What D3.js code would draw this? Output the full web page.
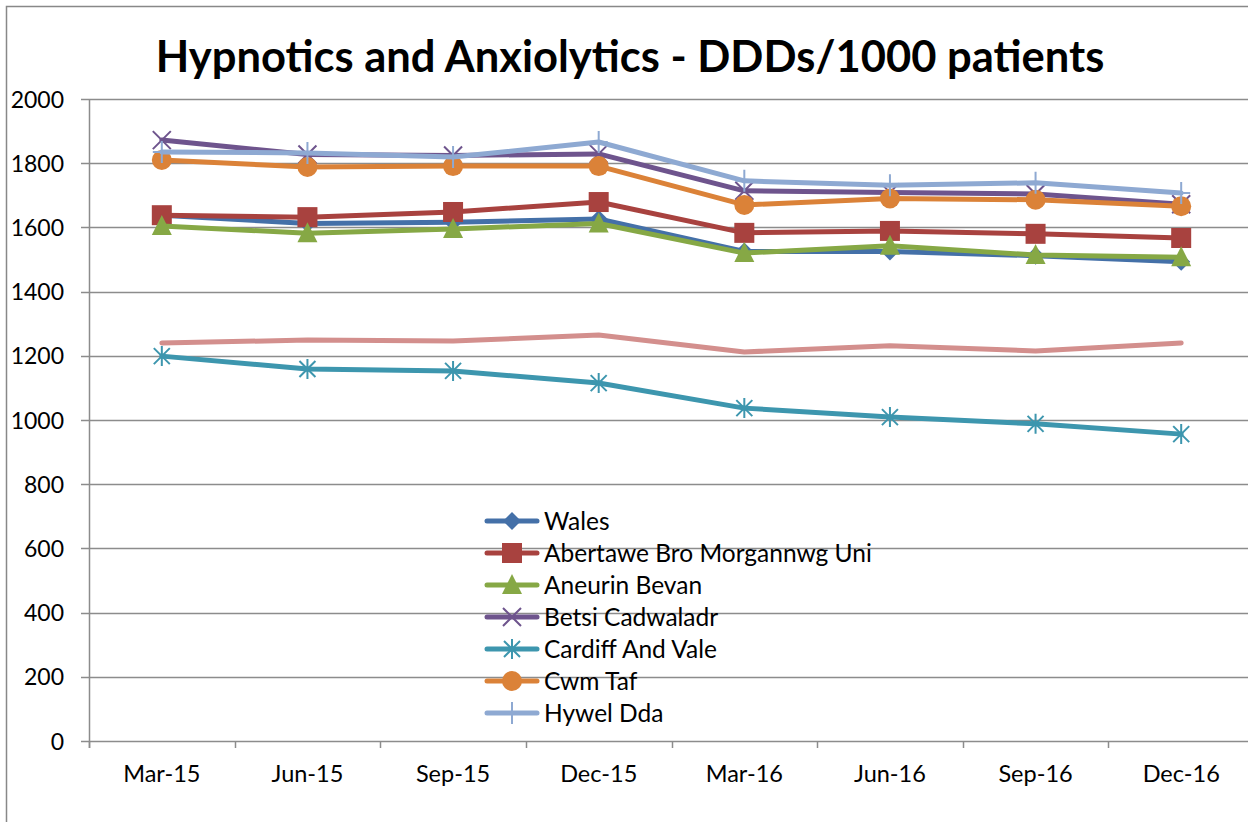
<!DOCTYPE html>
<html lang="en">
<head>
<meta charset="utf-8">
<title>Hypnotics and Anxiolytics</title>
<script src="https://cdn.jsdelivr.net/npm/d3@7"></script>
<style>
  body { margin: 0; background: #fff; }
  text { font-family: Lato, "Open Sans", sans-serif; fill: #000; }
</style>
</head>
<body>
<div id="chart"></div>
<script>
// quarters along the x axis
var quarters = ["Mar-15","Jun-15","Sep-15","Dec-15","Mar-16","Jun-16","Sep-16","Dec-16"]
var yTicks = [0,200,400,600,800,1000,1200,1400,1600,1800,2000]

// values
var wales      = [1638,1612,1616,1626,1525,1525,1512,1493]
var abm        = [1638,1632,1648,1679,1583,1589,1580,1567]
var aneurin    = [1604,1582,1595,1612,1520,1543,1514,1507]
var betsi      = [1872,1827,1824,1829,1714,1709,1704,1672]
var cardiff    = [1199,1159,1153,1115,1037,1009,988,956]
var cwmTaf     = [1810,1788,1791,1791,1670,1690,1686,1666]
var hywelDda   = [1835,1832,1819,1866,1745,1731,1739,1707]
var powys      = [1240,1249,1246,1265,1212,1231,1215,1240]   // pink line, no legend entry

var names   = ["Wales","Abertawe Bro Morgannwg Uni","Aneurin Bevan","Betsi Cadwaladr","Cardiff And Vale","Cwm Taf","Hywel Dda","Powys"]
var colors  = ["#4470A8","#A8423F","#86A845","#6E548D","#3D96AE","#DB8238","#8EA9D2","#D38F8D"]
var markers = ["diamond","square","triangle","x","asterisk","circle","plus","none"]
var inLegend = [true,true,true,true,true,true,true,false]

var allSeries = [wales,abm,aneurin,betsi,cardiff,cwmTaf,hywelDda,powys]

var W = 1248, H = 822
var svg = d3.select("#chart").append("svg").attr("width",W).attr("height",H)

// outer frame
svg.append("path").attr("d","M6.5,"+H+"V6.5H"+W).attr("fill","none").attr("stroke","#888").attr("stroke-width",1.5)

var plotLeft = 89, plotRight = 1254, plotTop = 99, plotBottom = 741

var x = d3.scaleBand().domain(quarters).range([plotLeft,plotRight])
var y = d3.scaleLinear().domain([0,2000]).range([plotBottom,plotTop])

// gridlines
svg.append("g").selectAll("line").data(yTicks).enter().append("line")
  .attr("x1",plotLeft-8).attr("x2",W)
  .attr("y1",function(d){return Math.round(y(d))+0.5})
  .attr("y2",function(d){return Math.round(y(d))+0.5})
  .attr("stroke","#8c8c8c").attr("stroke-width",1.5)

// y axis
var yAxis = d3.axisLeft(y).tickValues(yTicks).tickSize(0).tickPadding(25).tickFormat(d3.format("d"))
var gy = svg.append("g").attr("transform","translate("+plotLeft+",0)").call(yAxis)
gy.select(".domain").remove()
gy.selectAll("text").style("font-size","23px").attr("dy","0.35em").attr("font-family",null)
svg.append("line").attr("x1",plotLeft+0.5).attr("x2",plotLeft+0.5).attr("y1",plotTop).attr("y2",plotBottom+7)
  .attr("stroke","#8c8c8c").attr("stroke-width",1.5)

// x axis tick marks at category boundaries
var bounds = quarters.map(function(q){return x(q)}).concat([x(quarters[quarters.length-1])+x.bandwidth()])
svg.append("g").selectAll("line").data(bounds).enter().append("line")
  .attr("x1",function(d){return Math.round(d)+0.5}).attr("x2",function(d){return Math.round(d)+0.5})
  .attr("y1",plotBottom).attr("y2",plotBottom+7)
  .attr("stroke","#8c8c8c").attr("stroke-width",1.5)

var xAxis = d3.axisBottom(x).tickSize(0).tickPadding(24)
var gx = svg.append("g").attr("transform","translate(0,"+plotBottom+")").call(xAxis)
gx.select(".domain").remove()
gx.selectAll("text").style("font-size","23.5px").attr("font-family",null)

// title
svg.append("text").attr("x",630).attr("y",72).attr("text-anchor","middle")
  .style("font-size","43.5px").style("font-weight","bold")
  .text("Hypnotics and Anxiolytics - DDDs/1000 patients")

function cx(i){ return x(quarters[i]) + x.bandwidth()/2 }

function drawMarker(g,type,px,py,color){
  if(type=="none") return
  if(type=="diamond"){
    g.append("path").attr("d","M"+px+","+(py-9)+"L"+(px+9)+","+py+"L"+px+","+(py+9)+"L"+(px-9)+","+py+"Z").attr("fill",color)
  }else if(type=="square"){
    g.append("rect").attr("x",px-10).attr("y",py-10).attr("width",20).attr("height",20).attr("fill",color)
  }else if(type=="triangle"){
    g.append("path").attr("d","M"+px+","+(py-11)+"L"+(px+10)+","+(py+9)+"L"+(px-10)+","+(py+9)+"Z").attr("fill",color)
  }else if(type=="circle"){
    g.append("circle").attr("cx",px).attr("cy",py).attr("r",10).attr("fill",color)
  }else if(type=="x"){
    g.append("path").attr("d","M"+(px-9)+","+(py-9)+"L"+(px+9)+","+(py+9)+"M"+(px+9)+","+(py-9)+"L"+(px-9)+","+(py+9))
      .attr("stroke",color).attr("stroke-width",2).attr("fill","none")
  }else if(type=="asterisk"){
    g.append("path").attr("d","M"+(px-8)+","+(py-8)+"L"+(px+8)+","+(py+8)+"M"+(px+8)+","+(py-8)+"L"+(px-8)+","+(py+8)+"M"+px+","+(py-10)+"L"+px+","+(py+10))
      .attr("stroke",color).attr("stroke-width",2).attr("fill","none")
  }else if(type=="plus"){
    g.append("path").attr("d","M"+(px-9)+","+py+"L"+(px+9)+","+py+"M"+px+","+(py-11)+"L"+px+","+(py+11))
      .attr("stroke",color).attr("stroke-width",2).attr("fill","none")
  }
}

var line = d3.line().x(function(d,i){return cx(i)}).y(function(d){return y(d)})

// draw series (Powys first so it sits under)
var order = [7,0,1,2,3,4,5,6]
order.forEach(function(s){
  var g = svg.append("g")
  g.append("path").datum(allSeries[s]).attr("d",line).attr("fill","none")
    .attr("stroke",colors[s]).attr("stroke-width",5).attr("stroke-linejoin","round").attr("stroke-linecap","round")
  allSeries[s].forEach(function(v,i){ drawMarker(g,markers[s],cx(i),y(v),colors[s]) })
})

// legend
var lg = svg.append("g")
var row = 0
names.forEach(function(n,s){
  if(!inLegend[s]) return
  var ly = 521 + row*32
  lg.append("line").attr("x1",487).attr("x2",537).attr("y1",ly).attr("y2",ly)
    .attr("stroke",colors[s]).attr("stroke-width",5).attr("stroke-linecap","round")
  drawMarker(lg,markers[s],512,ly,colors[s])
  lg.append("text").attr("x",544).attr("y",ly).attr("dy","0.35em").style("font-size","24.5px").text(n)
  row++
})
</script>
</body>
</html>
